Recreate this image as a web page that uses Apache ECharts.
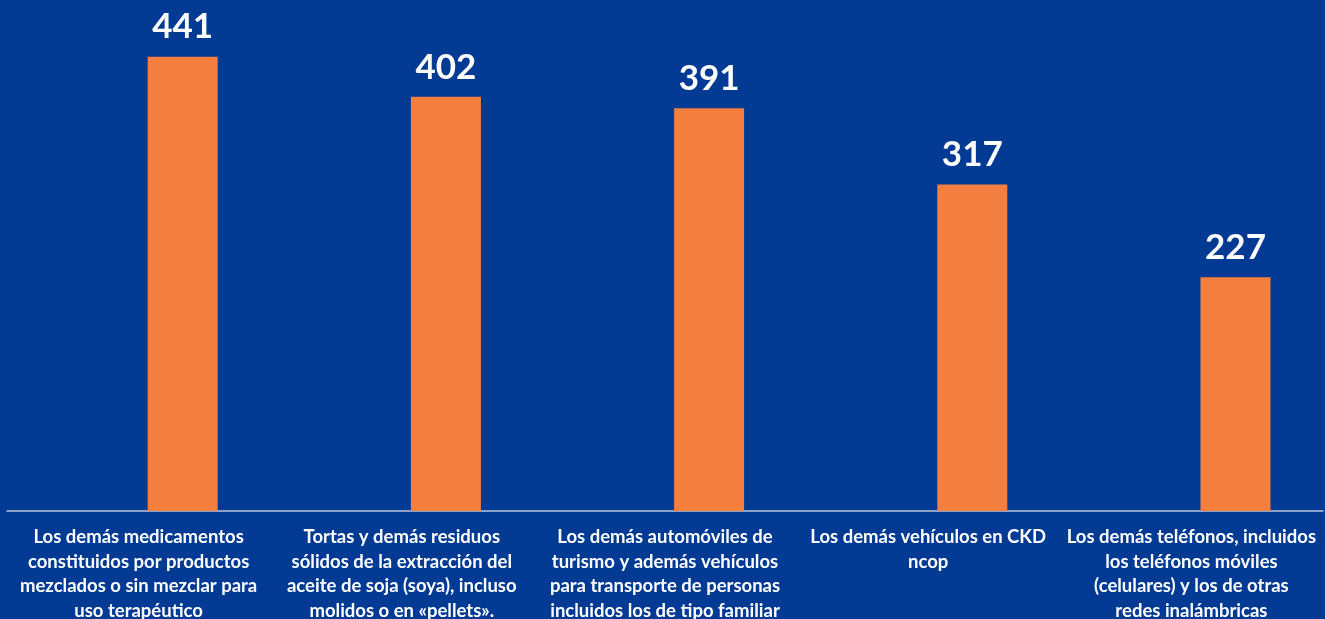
<!DOCTYPE html>
<html><head><meta charset="utf-8">
<script src="https://cdn.jsdelivr.net/npm/echarts@6/dist/echarts.min.js"></script>
<style>html,body{margin:0;padding:0;background:#023A94;overflow:hidden;}#c{width:1325px;height:619px;}</style>
</head><body><div id="c"></div>
<script>
const categories = [
  "Los demás medicamentos\nconstituidos por productos\nmezclados o sin mezclar para\nuso terapéutico",
  "Tortas y demás residuos\nsólidos de la extracción del\naceite de soja (soya), incluso\nmolidos o en «pellets».",
  "Los demás automóviles de\nturismo y además vehículos\npara transporte de personas\nincluidos los de tipo familiar",
  "Los demás vehículos en CKD\nncop",
  "Los demás teléfonos, incluidos\nlos teléfonos móviles\n(celulares) y los de otras\nredes inalámbricas"
];
const values = [441, 402, 391, 317, 227];
const spacer = [null, null, null, null, null];

const chart = echarts.init(document.getElementById('c'));
chart.setOption({
  backgroundColor: '#023A94',
  animation: false,
  grid: { left: 7, right: 2, top: 0, bottom: 108, containLabel: false, outerBoundsMode: 'none' },
  xAxis: {
    type: 'category', data: categories,
    axisLine: { show: true, lineStyle: { color: '#BAC5DD', width: 1.5 } },
    axisTick: { show: false },
    axisLabel: {
      interval: 0, margin: 14, color: '#FFFFFF', fontFamily: 'Lato',
      fontWeight: 'bold', fontSize: 18.5, lineHeight: 24.5, align: 'center'
    }
  },
  yAxis: { type: 'value', min: 0, max: 496, show: false, splitLine: { show: false } },
  series: [
    { type: 'bar', data: spacer, barWidth: 70, barGap: '26%', itemStyle: { color: 'transparent' } },
    {
      type: 'bar', data: values, barWidth: 70, barGap: '26%',
      itemStyle: { color: '#F47F3F' },
      label: {
        show: true, position: 'top', distance: 12, color: '#FFFFFF',
        fontFamily: 'Lato', fontWeight: 'bold', fontSize: 35
      }
    }
  ]
});
</script></body></html>
